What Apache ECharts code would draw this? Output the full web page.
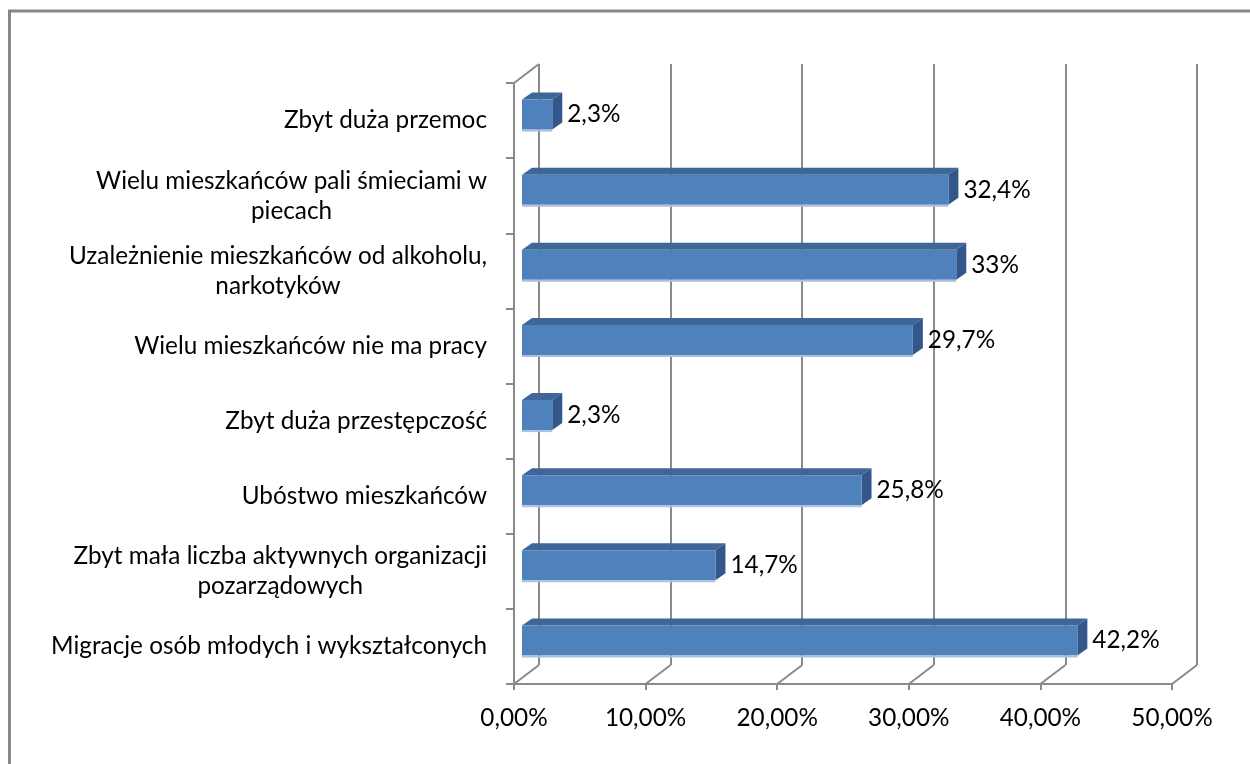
<!DOCTYPE html>
<html>
<head>
<meta charset="utf-8">
<script src="https://cdn.jsdelivr.net/npm/echarts@6/dist/echarts.min.js"></script>
<style>
html, body { margin: 0; padding: 0; background: #fff; }
#chart { width: 1250px; height: 764px; }
</style>
</head>
<body>
<div id="chart"></div>
<script>
// kategorie od góry do dołu
var categories = [
	'Zbyt duża przemoc',
	'Wielu mieszkańców pali śmieciami w\npiecach',
	'Uzależnienie mieszkańców od alkoholu,\nnarkotyków',
	'Wielu mieszkańców nie ma pracy',
	'Zbyt duża przestępczość',
	'Ubóstwo mieszkańców',
	'Zbyt mała liczba aktywnych organizacji\npozarządowych',
	'Migracje osób młodych i wykształconych'
];
var values = [2.3, 32.4, 33, 29.7, 2.3, 25.8, 14.7, 42.2];
var ticks = [0, 10, 20, 30, 40, 50];

var FONT = 'Lato';
var FS = 24.3;
var GRID = '#8a8a8a';
// przesunięcie tylnej ściany (efekt 3D)
var WALL_DX = 25, WALL_DY = -19;

var chart = echarts.init(document.getElementById('chart'));

function fmtPct(v) {
	return String(v).replace('.', ',') + '%';
}

function renderBar(params, api) {
	var i = api.value(1);
	var v = api.value(0);
	var p0 = api.coord([0, i]);
	var p1 = api.coord([v, i]);
	var band = api.size([0, 1])[1];
	var h = band * 0.4;
	var x0 = p0[0] + 8, x1 = p1[0] + 8, yc = p0[1] - 6;
	var top = yc - h / 2, bot = yc + h / 2;
	var dx = 10, dy = -7;
	return {
		type : 'group',
		children : [ {
			type : 'polygon',
			shape : { points : [ [x0, top], [x0 + dx, top + dy], [x1 + dx, top + dy], [x1, top] ] },
			style : { fill : '#3e6696' }
		}, {
			type : 'polygon',
			shape : { points : [ [x1, top], [x1 + dx, top + dy], [x1 + dx, bot + dy], [x1, bot] ] },
			style : { fill : '#33578a' }
		}, {
			type : 'rect',
			shape : { x : x0, y : top, width : x1 - x0, height : h },
			style : { fill : '#4f81bd' }
		}, {
			type : 'line',
			shape : { x1 : x0, y1 : bot + 1, x2 : x1, y2 : bot + 1 },
			style : { stroke : '#a9c1df', lineWidth : 2 }
		}, {
			type : 'text',
			x : x1 + dx + 5,
			y : yc,
			style : {
				text : fmtPct(v),
				fontFamily : FONT,
				fontSize : FS,
				fill : '#000',
				verticalAlign : 'middle',
				align : 'left'
			}
		} ]
	};
}

// skosy podłogi i górny skos lewej ściany
function renderWall(params, api) {
	var t = api.value(0);
	var cs = params.coordSys;
	var bottom = cs.y + cs.height;
	var x = api.coord([t, 0])[0];
	var children = [ {
		type : 'line',
		shape : { x1 : x, y1 : bottom, x2 : x + WALL_DX, y2 : bottom + WALL_DY },
		style : { stroke : GRID, lineWidth : 2 }
	} ];
	if (t === 0) {
		children.push({
			type : 'line',
			shape : { x1 : x, y1 : cs.y, x2 : x + WALL_DX, y2 : cs.y + WALL_DY },
			style : { stroke : GRID, lineWidth : 2 }
		});
	}
	return { type : 'group', children : children };
}

var option = {
	animation : false,
	backgroundColor : '#fff',
	graphic : [ {
		type : 'rect',
		shape : { x : 9.5, y : 11, width : 1300, height : 800 },
		style : { fill : 'none', stroke : '#878787', lineWidth : 3 },
		silent : true
	} ],
	grid : [
		{ left : 514, right : 78, top : 83, bottom : 80 },
		{ left : 514 + WALL_DX, right : 78 - WALL_DX, top : 83 + WALL_DY, bottom : 80 - WALL_DY }
	],
	xAxis : [ {
		gridIndex : 0,
		type : 'value',
		min : 0,
		max : 50,
		interval : 10,
		axisLine : { show : true, lineStyle : { color : GRID, width : 2 } },
		axisTick : { show : true, length : 6, lineStyle : { color : GRID, width : 2 } },
		splitLine : { show : false },
		axisLabel : {
			margin : 22,
			fontFamily : FONT,
			fontSize : FS,
			color : '#000',
			formatter : function(v) {
				return v.toFixed(2).replace('.', ',') + '%';
			}
		}
	}, {
		gridIndex : 1,
		type : 'value',
		min : 0,
		max : 50,
		interval : 10,
		axisLine : { show : false },
		axisTick : { show : false },
		axisLabel : { show : false },
		splitLine : { show : true, lineStyle : { color : GRID, width : 2 } }
	} ],
	yAxis : [ {
		gridIndex : 0,
		type : 'category',
		inverse : true,
		data : categories,
		axisLine : { show : true, lineStyle : { color : GRID, width : 2 } },
		axisTick : { show : true, length : 8, lineStyle : { color : GRID, width : 2 } },
		axisLabel : {
			margin : 27,
			color : '#000',
			fontFamily : FONT,
			fontSize : FS,
			lineHeight : 30,
			formatter : function(v) {
				return v.split('\n').map(function(s) {
					return '{c|' + s + '}';
				}).join('\n');
			},
			rich : {
				c : { align : 'center', fontFamily : FONT, fontSize : FS, lineHeight : 30, color : '#000' }
			}
		}
	}, {
		gridIndex : 1,
		type : 'category',
		data : categories,
		show : false
	} ],
	series : [ {
		type : 'custom',
		xAxisIndex : 0,
		yAxisIndex : 0,
		renderItem : renderWall,
		data : ticks.map(function(t) { return [t, 0]; }),
		encode : { x : 0, y : 1 },
		z : 1
	}, {
		type : 'custom',
		xAxisIndex : 0,
		yAxisIndex : 0,
		renderItem : renderBar,
		data : values.map(function(v, i) { return [v, i]; }),
		encode : { x : 0, y : 1 },
		z : 5
	} ]
};
chart.setOption(option);
</script>
</body>
</html>
